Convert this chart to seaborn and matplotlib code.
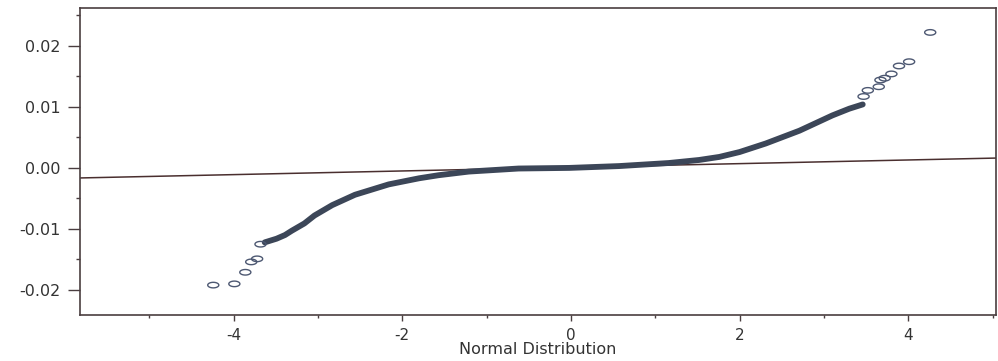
import numpy as np
import pandas as pd
import matplotlib
matplotlib.use("Agg")
import matplotlib.pyplot as plt
from matplotlib.path import Path
import seaborn as sns

# Normal quantile plot of returns: dense body of the sample
body_q = [-3.63, -3.49, -3.39, -3.31, -3.16, -3.04, -2.83, -2.56, -2.16, -1.80,
          -1.57, -1.21, -0.62, -0.02, 0.57, 1.16, 1.52, 1.76, 2.00, 2.31,
          2.71, 3.10, 3.30, 3.46]
body_v = [-0.0122, -0.0116, -0.0110, -0.0103, -0.0091, -0.0078, -0.0061, -0.0044,
          -0.0027, -0.0017, -0.0012, -0.0006, -0.0001, 0.0000, 0.0003, 0.0008,
          0.0013, 0.0018, 0.0026, 0.0040, 0.0061, 0.0086, 0.0097, 0.0104]

# Individual observations in the tails
tail_q = [-4.24, -3.99, -3.86, -3.79, -3.72, -3.68,
          3.47, 3.52, 3.65, 3.67, 3.72, 3.80, 3.89, 4.01, 4.26]
tail_v = [-0.0192, -0.0190, -0.0171, -0.0154, -0.0149, -0.0125,
          0.0117, 0.0127, 0.0133, 0.0144, 0.0147, 0.0154, 0.0167, 0.0174, 0.0222]

# Reference line
ref_intercept = 0.0001
ref_slope = 0.0003

x_ticks = [-4, -2, 0, 2, 4]
y_ticks = [-0.02, -0.01, 0.00, 0.01, 0.02]
y_ticklabels = ["-0.02", "-0.01", "0.00", "0.01", "0.02"]

sns.set_theme(style="ticks")
plt.rcParams["font.family"] = ["DejaVu Sans"]

fig = plt.figure(figsize=(9.98, 3.61), dpi=100)
ax = fig.add_axes([80 / 998, 1 - 315 / 361, (996 - 80) / 998, (315 - 8) / 361])

body = pd.DataFrame({"q": body_q, "v": body_v})
tails = pd.DataFrame({"q": tail_q, "v": tail_v})

spine_col = "#4a3e40"
point_col = "#3c4658"

# reference line
ax.axline((0, ref_intercept), slope=ref_slope, color="#4a2f2f", lw=1.1, zorder=2)

# dense body drawn as a thick band of overlapping points
sns.lineplot(data=body, x="q", y="v", ax=ax, color=point_col, lw=4.2,
             solid_capstyle="round", solid_joinstyle="round", sort=True,
             estimator=None, zorder=3)

# flattened open circles for the tail observations
t = np.linspace(0, 2 * np.pi, 40)
ell = Path(np.column_stack([np.cos(t), 0.5 * np.sin(t)]), closed=True)
sns.scatterplot(data=tails, x="q", y="v", ax=ax, marker=ell, s=64,
                facecolor="none", edgecolor="#4d5872", linewidth=1.0, zorder=4)

ax.set_xlim(-5.82, 5.04)
ax.set_ylim(-0.0241, 0.0262)

ax.set_xticks(x_ticks)
ax.set_xticklabels([str(v) for v in x_ticks])
ax.set_xticks([-5, -3, -1, 1, 3, 5], minor=True)
ax.set_yticks(y_ticks)
ax.set_yticklabels(y_ticklabels)
ax.set_yticks([-0.015, -0.005, 0.005, 0.015, 0.025], minor=True)

ax.tick_params(axis="y", which="major", length=8.5, width=1.0, color=spine_col,
               pad=5.5, labelsize=11.5, labelcolor="#333333")
ax.tick_params(axis="y", which="minor", length=3, width=1.0, color=spine_col)
ax.tick_params(axis="x", which="major", length=4, width=1.0, color=spine_col,
               pad=5, labelsize=11, labelcolor="#333333")
ax.tick_params(axis="x", which="minor", length=2.5, width=1.0, color=spine_col)

for side in ["left", "right", "top", "bottom"]:
    ax.spines[side].set_visible(True)
    ax.spines[side].set_color(spine_col)
    ax.spines[side].set_linewidth(1.2)

ax.set_xlabel("Normal Distribution", fontsize=11.5, color="#333333", labelpad=0)
ax.set_ylabel("")

fig.savefig("out.png", dpi=100, facecolor="white")
